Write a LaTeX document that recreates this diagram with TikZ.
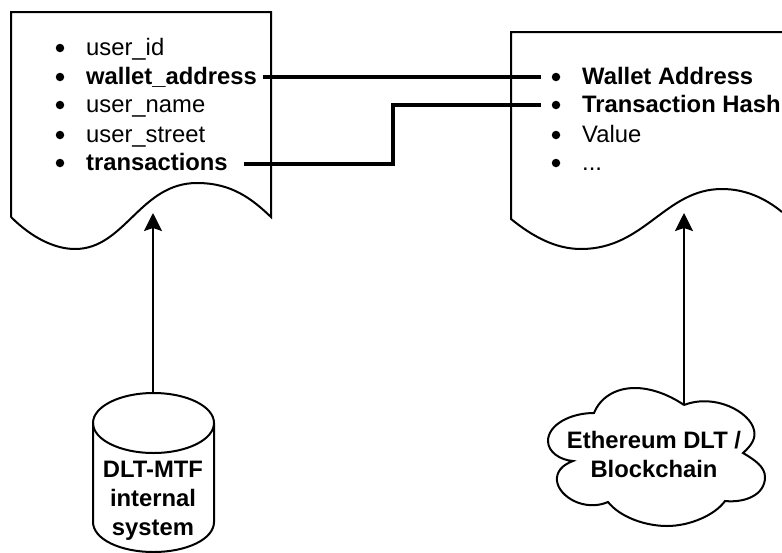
\documentclass[tikz,border=0pt]{standalone}
\usepackage{fontspec}
\setmainfont{Liberation Sans}
\usetikzlibrary{arrows.meta}
\tikzset{
  itemtext/.style={anchor=base west,inner sep=0pt,font=\fontsize{23.8}{28}\selectfont},
  itembold/.style={itemtext,font=\fontsize{23.8}{28}\selectfont\bfseries},
  itemdot/.style={circle,fill=black,inner sep=0pt,minimum size=8.5pt},
  boxtext/.style={align=center,inner sep=0pt,font=\fontsize{23.8}{29}\selectfont\bfseries},
  sheet/.style={line width=2pt},
  link/.style={line width=4pt},
  feed/.style={line width=2pt,-{Stealth[length=18pt,width=18pt,inset=3pt]}},
}
\begin{document}
\begin{tikzpicture}[x=1pt,y=-1pt]
  \useasboundingbox (0,0) rectangle (782,552);

  % left sheet
  \draw[sheet] (11,217) |- (271,12) -- (271,217)
        .. controls (252,199) and (232,183) .. (197,183)
        .. controls (140,183) and (125,249) .. (75,249)
        .. controls (55,249) and (32,238) .. (11,217);
  \coordinate (leftwave) at (153,213);

  % right sheet, runs over the edge
  \draw[sheet] (782,32) -- (511,32) -- (511,219)
        .. controls (532,236) and (555,249) .. (581,249)
        .. controls (645,249) and (665,189) .. (722,189)
        .. controls (745,189) and (765,198) .. (782,212);
  \coordinate (rightwave) at (684,213);

  % left list
  \node[itemdot] (ldot1) at (60,48) {};
  \node[itemdot] (ldot2) at (60,77) {};
  \node[itemdot] (ldot3) at (60,105) {};
  \node[itemdot] (ldot4) at (60,135) {};
  \node[itemdot] (ldot5) at (60,163) {};
  \node[itemtext] (userid) at (86,55) {user\_id};
  \node[itembold] (walleta) at (86,84) {wallet\_address};
  \node[itemtext] (username) at (86,112) {user\_name};
  \node[itemtext] (userstreet) at (86,142) {user\_street};
  \node[itembold] (transa) at (86,170) {transactions};

  % right list
  \node[itemdot] (rdot1) at (556,77) {};
  \node[itemdot] (rdot2) at (556,105) {};
  \node[itemdot] (rdot3) at (556,135) {};
  \node[itemdot] (rdot4) at (556,163) {};
  \node[itembold] (walletb) at (582,84) {Wallet Address};
  \node[itembold] (transb) at (582,112) {Transaction Hash};
  \node[itemtext] (valueb) at (582,142) {Value};
  \node[itemtext] (moreb) at (582,170) {...};

  % links
  \coordinate (linkb) at (393,105);
  \draw[link] (walleta.east |- ldot2) ++(6,0) -- ([xshift=-11pt]rdot1.west);
  \draw[link] (transa.east |- ldot5) ++(16,1) -| (linkb) -- ([xshift=-11pt]rdot2.west);

  % cylinder
  \draw[sheet] (93,423) -- (93,522)
        .. controls (93,539) and (120,552) .. (153.5,552)
        .. controls (187,552) and (214,539) .. (214,522) -- (214,423);
  \draw[sheet] (153.5,423) ellipse[x radius=60.5,y radius=30];
  \coordinate (cyltop) at (153,393);
  \node[boxtext] (cyltext) at (153,501) {DLT-MTF\\internal\\system};

  % cloud
  \coordinate (cloudtop) at (684,405);
  \draw[sheet] (cloudtop)
        .. controls (668,394) and (650,388) .. (635,388)
        .. controls (615,388) and (600,398) .. (594,413)
        .. controls (570,413) and (548,425) .. (548,441)
        .. controls (548,452) and (560,460) .. (573,461)
        .. controls (562,465) and (556,472) .. (557,481)
        .. controls (559,497) and (585,512) .. (608,502)
        .. controls (620,517) and (645,526) .. (667,526)
        .. controls (690,526) and (715,515) .. (725,501)
        .. controls (745,503) and (765,495) .. (765,477)
        .. controls (765,467) and (755,460) .. (743,453)
        .. controls (752,445) and (756,438) .. (754,430)
        .. controls (750,412) and (715,393) .. (684,405);
  \node[boxtext] (cloudtext) at (654,454) {Ethereum DLT /\\Blockchain};

  % feeds
  \draw[feed] (cyltop) -- (leftwave);
  \draw[feed] (cloudtop) -- (rightwave);
\end{tikzpicture}
\end{document}
